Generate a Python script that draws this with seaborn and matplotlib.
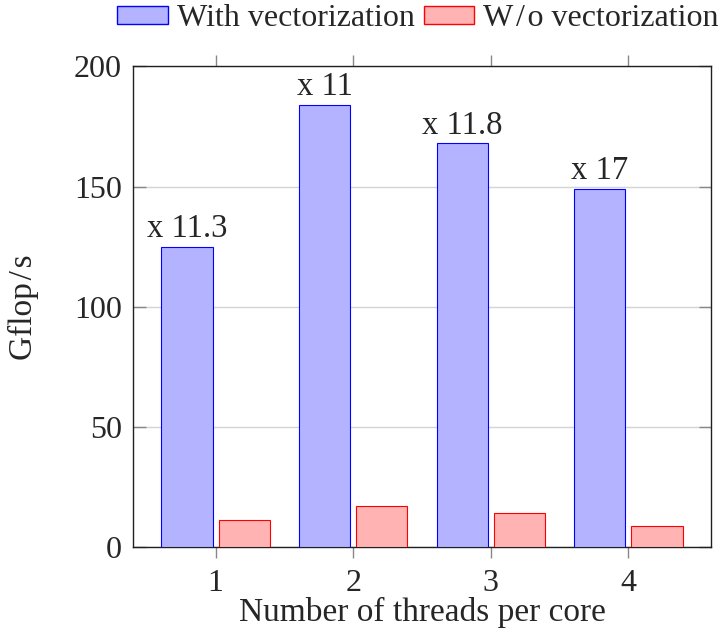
import matplotlib
matplotlib.use("Agg")
import matplotlib.pyplot as plt
import pandas as pd
import seaborn as sns

# Gflop/s per thread count, with and without vectorization
threads = ["1", "2", "3", "4"]
with_vec = [125, 184, 168, 149]
without_vec = [11.1, 16.9, 14.3, 8.9]
speedup_labels = ["x 11.3", "x 11", "x 11.8", "x 17"]
series_names = ["With vectorization", "W\u200a/\u200ao vectorization"]

fill_colors = ["#b3b3ff", "#ffb3b3"]
edge_colors = ["#0000ff", "#ff0000"]

df = pd.DataFrame({
    "threads": threads * 2,
    "gflops": with_vec + without_vec,
    "series": [series_names[0]] * len(threads) + [series_names[1]] * len(threads),
})

sns.set_style("ticks")
plt.rcParams["font.family"] = ["Liberation Serif", "DejaVu Serif"]
plt.rcParams["font.size"] = 23

fig = plt.figure(figsize=(7.24, 6.32), dpi=100)
ax = fig.add_axes([133 / 724, 1 - 547 / 632, 578 / 724, 480.5 / 632])

sns.barplot(data=df, x="threads", y="gflops", hue="series", order=threads,
            hue_order=series_names, palette=fill_colors, width=0.83, gap=0.106,
            saturation=1, legend=False, ax=ax, zorder=3)

for container, ec in zip(ax.containers, edge_colors):
    for bar in container:
        bar.set_edgecolor(ec)
        bar.set_linewidth(0.8)

ax.bar_label(ax.containers[0], labels=speedup_labels, padding=2, fontsize=23.5)

ax.set_xlim(-0.6, 3.6)
ax.set_ylim(0, 200)
ax.set_yticks([0, 50, 100, 150, 200])
ax.yaxis.grid(True, color="#d4d4d4", linewidth=1.0, zorder=0)
ax.set_axisbelow(True)

for s in ax.spines.values():
    s.set_visible(True)
    s.set_color("#202020")
    s.set_linewidth(1.0)

ax.tick_params(axis="y", direction="in", length=9, width=1, color="#888888",
               left=True, right=True, pad=8, labelsize=23)
ax.tick_params(axis="x", direction="out", length=8, width=1, color="#888888",
               bottom=True, top=True, pad=8, labelsize=23)

ax.set_xlabel("Number of threads per core", fontsize=24, labelpad=-1)
ax.set_ylabel("Gflop\u200a/\u200as", fontsize=24)
ax.yaxis.set_label_coords(-0.163, 0.5)

handles = [plt.Rectangle((0, 0), 1, 1, facecolor=f, edgecolor=e, linewidth=1.0)
           for f, e in zip(fill_colors, edge_colors)]
fig.legend(handles, series_names, loc="center", bbox_to_anchor=(418 / 724, 1 - 19 / 632),
           ncol=2, frameon=False, borderpad=0, handlelength=1.57, handleheight=0.47,
           handletextpad=0.28, columnspacing=0.3, fontsize=23)

fig.savefig("out.png", dpi=100)
